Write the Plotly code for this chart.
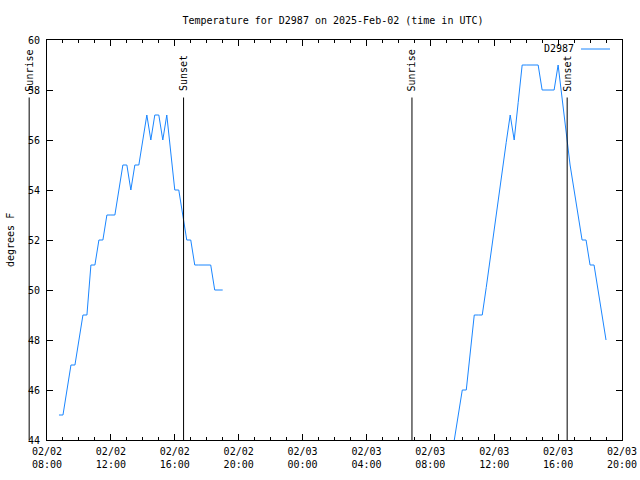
import pandas as pd
import plotly.graph_objects as go

# ---- data ----
station = "D2987"
title_text = "Temperature for D2987 on 2025-Feb-02 (time in UTC)"
y_title = "degrees F"

start_day1 = "2025-02-02 08:45"
temps_day1 = [45, 45, 46, 47, 47, 48, 49, 49, 51, 51, 52, 52, 53, 53, 53, 54,
              55, 55, 54, 55, 55, 56, 57, 56, 57, 57, 56, 57, 55.5, 54, 54, 53,
              52, 52, 51, 51, 51, 51, 51, 50, 50, 50]

start_day2 = "2025-02-03 09:15"
temps_day2 = [43, 44, 45, 46, 46, 47.5, 49, 49, 49, 50.1, 51.3, 52.4, 53.6,
              54.7, 55.9, 57, 56, 57.5, 59, 59, 59, 59, 59, 58, 58, 58, 58, 59,
              57.7, 56.5, 55, 54, 53, 52, 52, 51, 51, 50, 49, 48]
sample_step = "15min"

sun_labels = ["Sunrise", "Sunset", "Sunrise", "Sunset"]
sun_times = ["2025-02-02 06:53", "2025-02-02 16:33",
             "2025-02-03 06:51", "2025-02-03 16:34"]

x_range = ["2025-02-02 08:00", "2025-02-03 20:00"]
y_range = [44, 60]
y_ticks = [44, 46, 48, 50, 52, 54, 56, 58, 60]
sun_line_top = 57.7
sun_label_bottom = 57.9

# ---- figure ----
line_color = "#1a86ff"
font_family = "DejaVu Sans Mono"

times1 = pd.date_range(start_day1, periods=len(temps_day1), freq=sample_step)
times2 = pd.date_range(start_day2, periods=len(temps_day2), freq=sample_step)

fig = go.Figure()
for tt, vv in ((times1, temps_day1), (times2, temps_day2)):
    fig.add_trace(go.Scatter(x=tt, y=vv, mode="lines", showlegend=False,
                             line=dict(color=line_color, width=1)))

x0 = pd.Timestamp(x_range[0])
x1 = pd.Timestamp(x_range[1])


def to_paper(t):
    return (pd.Timestamp(t) - x0) / (x1 - x0)


shapes = []
annotations = []
for lab, t in zip(sun_labels, sun_times):
    px = to_paper(t)
    shapes.append(dict(type="line", xref="paper", yref="y", x0=px, x1=px,
                       y0=y_range[0], y1=sun_line_top,
                       line=dict(color="black", width=1)))
    annotations.append(dict(text=lab, xref="paper", yref="y", x=px,
                            y=sun_label_bottom, xanchor="center",
                            yanchor="bottom", textangle=-90, showarrow=False,
                            borderpad=0,
                            font=dict(family=font_family, size=10,
                                      color="black")))

# legend (gnuplot style: text then sample line)
W, H = 575.0, 400.0
leg_y = (440 - 49) / H
annotations.append(dict(text=station, xref="paper", yref="paper",
                        x=(575 - 47) / W, y=leg_y, xanchor="right",
                        yanchor="middle", showarrow=False, borderpad=0,
                        font=dict(family=font_family, size=10, color="black")))
shapes.append(dict(type="line", xref="paper", yref="paper",
                   x0=(581 - 47) / W, x1=(610 - 47) / W, y0=leg_y, y1=leg_y,
                   line=dict(color=line_color, width=1)))

# y axis title
annotations.append(dict(text=y_title, xref="paper", yref="paper",
                        x=(10 - 47) / W, y=0.5, xanchor="center",
                        yanchor="middle", textangle=-90, showarrow=False,
                        font=dict(family=font_family, size=10, color="black")))

fig.update_layout(
    width=640, height=480,
    margin=dict(l=47, r=18, t=40, b=40, autoexpand=False),
    paper_bgcolor="white", plot_bgcolor="white",
    font=dict(family=font_family, size=10, color="black"),
    title=dict(text=title_text, x=(333) / 640, xanchor="center",
               y=1 - 20 / 480, yanchor="middle",
               font=dict(family=font_family, size=10, color="black")),
    shapes=shapes, annotations=annotations,
    showlegend=False,
)

fig.update_xaxes(
    type="date", range=x_range, tick0="2025-02-02 00:00",
    dtick=4 * 3600 * 1000, tickformat="%m/%d<br>%H:%M",
    ticks="inside", ticklen=6, tickcolor="black",
    showline=True, linecolor="black", linewidth=1, mirror="allticks",
    showgrid=False, zeroline=False, automargin=False, ticklabelstandoff=2,
    minor=dict(dtick=3600 * 1000, ticks="inside", ticklen=3,
               tickcolor="black", showgrid=False),
    tickfont=dict(family=font_family, size=10, color="black"),
)
fig.update_yaxes(
    range=y_range, tickmode="array", tickvals=y_ticks,
    ticktext=[str(v) for v in y_ticks],
    ticks="inside", ticklen=6, tickcolor="black",
    showline=True, linecolor="black", linewidth=1, mirror="allticks",
    showgrid=False, zeroline=False, ticklabelstandoff=4, automargin=False,
    tickfont=dict(family=font_family, size=10, color="black"),
)

fig.write_html("out.html",
               config={"displayModeBar": False},
               post_script="document.body.style.margin='0';")
